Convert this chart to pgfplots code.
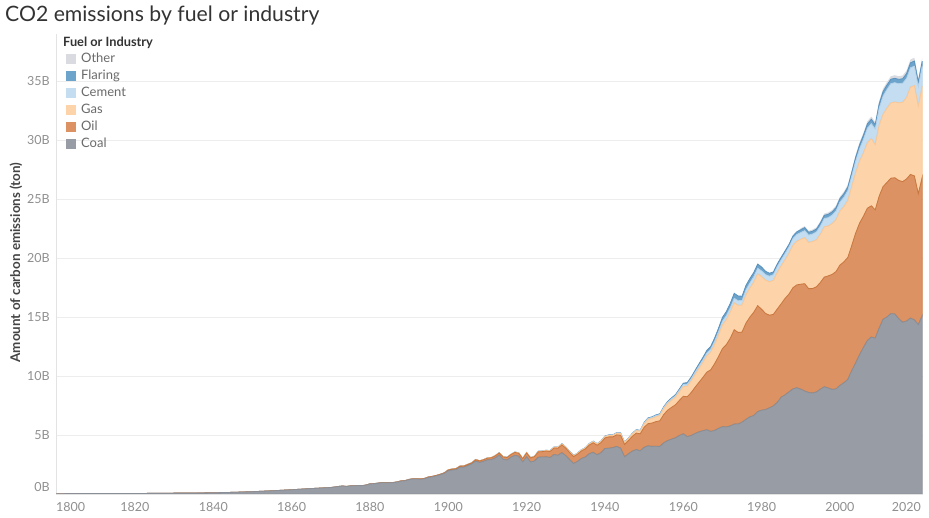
\documentclass[border=0pt]{standalone}
\usepackage{fontspec}
\setmainfont{Lato}
\usepackage{pgfplots}
\usepackage{pgfplotstable}
\pgfplotsset{compat=1.18}

\definecolor{titleC}{HTML}{333333}
\definecolor{tickC}{HTML}{8F8F8F}
\definecolor{labelC}{HTML}{444444}
\definecolor{legC}{HTML}{6A6A6A}
\definecolor{gridC}{HTML}{EDEDED}
\definecolor{axisC}{HTML}{E3E3E3}
\definecolor{coalF}{HTML}{989CA5}
\definecolor{coalD}{HTML}{8A8E97}
\definecolor{oilF}{HTML}{DC9262}
\definecolor{oilD}{HTML}{C9773F}
\definecolor{gasF}{HTML}{FDD3AA}
\definecolor{gasD}{HTML}{F9C896}
\definecolor{cemF}{HTML}{C4DDF0}
\definecolor{cemD}{HTML}{B3D2EA}
\definecolor{flaF}{HTML}{6DA4CB}
\definecolor{flaD}{HTML}{5A92BE}
\definecolor{othF}{HTML}{D9DBE0}

% Annual emissions by source, billion tonnes of CO2
\pgfplotstableread{
year coal oil gas cement flaring other
1800 0.028 0 0 0 0 0
1805 0.031 0 0 0 0 0
1810 0.035 0 0 0 0 0
1815 0.039 0 0 0 0 0
1820 0.045 0 0 0 0 0
1825 0.054 0 0 0 0 0
1830 0.072 0 0 0 0 0
1835 0.080 0 0 0 0 0
1840 0.103 0 0 0 0 0
1845 0.140 0 0 0 0 0
1850 0.196 0 0 0 0 0
1855 0.270 0 0 0 0 0
1860 0.360 0 0 0 0 0
1865 0.460 0 0 0 0 0
1870 0.548 0.002 0 0 0 0
1871 0.588 0.002 0 0 0 0
1872 0.637 0.003 0 0 0 0
1873 0.677 0.003 0 0 0 0
1874 0.636 0.004 0 0 0 0
1875 0.686 0.004 0 0 0 0
1876 0.696 0.005 0 0 0 0
1877 0.715 0.005 0 0 0 0
1878 0.704 0.006 0 0 0 0
1879 0.753 0.007 0 0 0 0
1880 0.852 0.008 0 0 0 0
1881 0.871 0.009 0 0 0 0
1882 0.910 0.010 0 0 0 0
1883 0.958 0.012 0 0 0 0
1884 0.947 0.013 0 0 0 0
1885 0.955 0.015 0 0 0 0
1886 0.963 0.017 0 0 0 0
1887 1.011 0.019 0 0 0 0
1888 1.098 0.022 0 0 0 0
1889 1.116 0.024 0 0 0 0
1890 1.215 0.025 0 0 0 0
1891 1.272 0.028 0 0 0 0
1892 1.270 0.030 0 0 0 0
1893 1.248 0.032 0 0 0 0
1894 1.295 0.035 0 0 0 0
1895 1.410 0.040 0 0 0 0
1896 1.457 0.043 0 0 0 0
1897 1.535 0.045 0 0 0 0
1898 1.632 0.048 0 0 0 0
1899 1.750 0.050 0 0 0 0
1900 1.97 0.07 0.01 0 0 0
1901 2.03 0.08 0.01 0 0 0
1902 2.07 0.08 0.01 0 0 0
1903 2.27 0.09 0.01 0 0 0
1904 2.27 0.10 0.01 0 0 0
1905 2.41 0.10 0.01 0 0 0
1906 2.54 0.10 0.01 0 0 0
1907 2.79 0.12 0.02 0 0 0
1908 2.67 0.13 0.02 0 0 0
1909 2.76 0.14 0.02 0 0 0
1910 2.89 0.15 0.02 0.01 0 0
1911 2.91 0.16 0.02 0.01 0 0
1912 3.06 0.17 0.02 0.01 0 0
1913 3.29 0.19 0.02 0.01 0 0
1914 2.94 0.20 0.02 0.01 0 0
1915 2.88 0.21 0.02 0.01 0 0
1916 3.11 0.23 0.02 0.01 0 0
1917 3.27 0.25 0.03 0.01 0 0
1918 3.20 0.25 0.03 0.01 0 0
1919 2.72 0.27 0.03 0.01 0 0
1920 3.15 0.33 0.03 0.01 0 0
1921 2.71 0.34 0.03 0.01 0 0
1922 2.79 0.38 0.03 0.01 0 0
1923 3.12 0.45 0.04 0.02 0 0
1924 3.13 0.46 0.04 0.02 0 0
1925 3.15 0.49 0.05 0.02 0 0
1926 3.09 0.51 0.05 0.02 0.01 0
1927 3.34 0.56 0.06 0.02 0.01 0
1928 3.28 0.60 0.07 0.02 0.01 0
1929 3.50 0.66 0.08 0.02 0.01 0
1930 3.25 0.63 0.08 0.02 0.01 0
1931 2.90 0.61 0.07 0.02 0.01 0
1932 2.59 0.58 0.07 0.02 0.01 0
1933 2.76 0.61 0.07 0.02 0.01 0
1934 3.01 0.64 0.08 0.02 0.01 0
1935 3.13 0.69 0.08 0.02 0.01 0
1936 3.41 0.74 0.09 0.03 0.01 0
1937 3.53 0.81 0.10 0.03 0.01 0
1938 3.32 0.81 0.10 0.03 0.01 0
1939 3.50 0.86 0.10 0.03 0.01 0
1940 3.85 0.90 0.11 0.03 0.02 0
1941 3.88 0.96 0.12 0.03 0.02 0
1942 3.92 0.92 0.13 0.03 0.02 0
1943 4.03 0.98 0.14 0.03 0.02 0
1944 3.88 1.10 0.15 0.03 0.02 0
1945 3.15 1.05 0.16 0.02 0.02 0
1946 3.40 1.13 0.17 0.03 0.02 0
1947 3.63 1.26 0.19 0.04 0.03 0
1948 3.76 1.40 0.21 0.05 0.03 0
1949 3.66 1.44 0.22 0.05 0.03 0
1950 3.95 1.70 0.30 0.07 0.04 0
1951 4.08 1.88 0.36 0.08 0.05 0
1952 4.03 1.98 0.40 0.08 0.05 0
1953 4.05 2.08 0.42 0.09 0.06 0
1954 4.02 2.18 0.45 0.09 0.06 0
1955 4.33 2.40 0.50 0.10 0.07 0
1956 4.52 2.58 0.55 0.11 0.08 0
1957 4.64 2.70 0.60 0.12 0.09 0
1958 4.76 2.80 0.64 0.12 0.10 0
1959 4.95 2.98 0.72 0.14 0.11 0
1960 5.10 3.18 0.83 0.16 0.12 0
1961 4.86 3.38 0.90 0.17 0.13 0
1962 4.95 3.64 0.98 0.18 0.15 0
1963 5.12 3.92 1.08 0.19 0.16 0
1964 5.26 4.20 1.18 0.21 0.18 0
1965 5.36 4.52 1.26 0.23 0.20 0
1966 5.44 4.88 1.38 0.24 0.22 0
1967 5.30 5.22 1.50 0.25 0.24 0
1968 5.38 5.66 1.64 0.27 0.27 0
1969 5.55 6.10 1.82 0.29 0.30 0
1970 5.70 6.62 2.00 0.32 0.33 0
1971 5.68 6.98 2.12 0.34 0.35 0
1972 5.76 7.44 2.22 0.36 0.38 0
1973 5.92 8.00 2.28 0.39 0.42 0
1974 5.93 7.76 2.30 0.39 0.40 0
1975 6.08 7.64 2.28 0.40 0.36 0
1976 6.32 8.16 2.40 0.42 0.38 0
1977 6.53 8.46 2.46 0.44 0.37 0
1978 6.64 8.76 2.56 0.46 0.36 0
1979 6.98 8.98 2.70 0.47 0.36 0
1980 7.10 8.55 2.78 0.47 0.33 0
1981 7.15 8.15 2.82 0.47 0.28 0
1982 7.30 7.85 2.84 0.47 0.25 0
1983 7.46 7.76 2.88 0.49 0.23 0
1984 7.76 7.92 3.10 0.50 0.22 0
1985 8.20 7.92 3.22 0.51 0.22 0
1986 8.40 8.18 3.28 0.53 0.22 0
1987 8.65 8.30 3.45 0.55 0.22 0
1988 8.90 8.58 3.60 0.57 0.22 0
1989 9.00 8.72 3.70 0.58 0.23 0
1990 8.88 8.90 3.80 0.58 0.24 0.12
1991 8.72 9.10 3.90 0.60 0.25 0.13
1992 8.60 8.80 3.92 0.62 0.24 0.13
1993 8.56 8.85 3.98 0.64 0.24 0.14
1994 8.64 8.92 3.98 0.67 0.25 0.14
1995 8.88 9.05 4.08 0.70 0.26 0.15
1996 9.08 9.30 4.26 0.71 0.27 0.15
1997 8.98 9.50 4.22 0.72 0.28 0.16
1998 8.86 9.75 4.30 0.72 0.28 0.16
1999 8.90 9.95 4.40 0.74 0.28 0.17
2000 9.20 10.20 4.58 0.76 0.30 0.17
2001 9.42 10.25 4.68 0.79 0.30 0.18
2002 9.70 10.35 4.82 0.84 0.31 0.18
2003 10.45 10.60 4.98 0.90 0.32 0.19
2004 11.10 11.00 5.12 0.98 0.33 0.20
2005 11.80 11.15 5.24 1.06 0.34 0.21
2006 12.42 11.12 5.36 1.16 0.35 0.21
2007 13.00 11.22 5.54 1.24 0.36 0.22
2008 13.30 11.12 5.70 1.27 0.37 0.23
2009 13.20 10.88 5.52 1.33 0.36 0.23
2010 14.05 11.18 6.00 1.45 0.37 0.24
2011 14.80 11.25 6.12 1.55 0.38 0.25
2012 15.00 11.40 6.30 1.58 0.38 0.25
2013 15.28 11.48 6.38 1.64 0.37 0.26
2014 15.25 11.55 6.42 1.64 0.37 0.26
2015 14.85 11.72 6.58 1.62 0.37 0.27
2016 14.55 11.92 6.72 1.62 0.38 0.27
2017 14.65 12.05 6.90 1.62 0.40 0.27
2018 14.90 12.18 7.40 1.64 0.42 0.28
2019 14.75 12.20 7.65 1.66 0.43 0.28
2020 14.35 11.10 7.40 1.66 0.40 0.28
2021 15.10 11.75 7.70 1.72 0.41 0.30
}\emissions

\begin{document}
\begin{tikzpicture}[x=1pt,y=1pt]
\path[use as bounding box] (0,0) rectangle (929,518);

\node[anchor=base west, inner sep=0pt, text=titleC,
      font=\fontsize{21.2}{25}\selectfont] at (5,496)
      {CO2 emissions by fuel or industry};

\begin{axis}[
  at={(56pt,24pt)}, anchor=south west,
  scale only axis, width=867pt, height=460.2pt,
  xmin=1799.85, xmax=2021.2, ymin=0, ymax=39,
  stack plots=y,
  axis x line*=bottom, axis y line*=left,
  axis line style={draw=axisC, line width=0.8pt, -},
  major tick length=0pt,
  ymajorgrids, major grid style={draw=gridC, line width=0.8pt},
  xtick={1800,1820,...,2020},
  xticklabels={\hspace*{28pt}1800,1820,1840,1860,1880,1900,1920,1940,1960,1980,2000,2020\hspace*{24pt}},
  ytick={0,5,...,35},
  yticklabels={\raisebox{7pt}[\height][\depth]{0B},5B,10B,15B,20B,25B,30B,35B},
  xticklabel style={anchor=center, yshift=-13pt, text=tickC,
                    font=\fontsize{12.5}{14}\selectfont},
  yticklabel style={anchor=east, inner sep=0pt, xshift=-6pt, text=tickC,
                    font=\fontsize{12.5}{14}\selectfont},
  ylabel={Amount of carbon emissions (ton)},
  every axis y label/.style={at={(axis description cs:-0.0461,0.503)},
                             rotate=90, anchor=center, inner sep=0pt,
                             font=\fontsize{13.4}{15}\selectfont\bfseries,
                             text=labelC},
  legend style={at={(axis description cs:0.0115,0.958)}, anchor=north west,
                draw=none, fill=none, inner sep=0pt,
                font=\fontsize{13}{15}\selectfont, text=legC,
                row sep=6pt,
                nodes={inner sep=0pt, anchor=west}},
  legend cell align=left,
  reverse legend,
  legend image code/.code={\path[#1, draw=none] (0pt,-5pt) rectangle (10pt,5pt);},
  legend columns=1,
]
\addplot[fill=coalF, draw=coalD, line width=0.8pt] table[x=year, y=coal] {\emissions} \closedcycle;
\addlegendentry{\hspace*{5pt}Coal}
\addplot[fill=oilF, draw=oilD, line width=0.8pt] table[x=year, y=oil] {\emissions} \closedcycle;
\addlegendentry{\hspace*{5pt}Oil}
\addplot[fill=gasF, draw=gasD, line width=0.8pt] table[x=year, y=gas] {\emissions} \closedcycle;
\addlegendentry{\hspace*{5pt}Gas}
\addplot[fill=cemF, draw=cemD, line width=0.8pt] table[x=year, y=cement] {\emissions} \closedcycle;
\addlegendentry{\hspace*{5pt}Cement}
\addplot[fill=flaF, draw=flaD, line width=0.8pt] table[x=year, y=flaring] {\emissions} \closedcycle;
\addlegendentry{\hspace*{5pt}Flaring}
\addplot[fill=othF, draw=none] table[x=year, y=other] {\emissions} \closedcycle;
\addlegendentry{\hspace*{5pt}Other}
\end{axis}

\node[anchor=west, inner sep=0pt, text=titleC,
      font=\fontsize{12.8}{15}\selectfont\bfseries] at (63,475)
      {Fuel or Industry};
\end{tikzpicture}
\end{document}
